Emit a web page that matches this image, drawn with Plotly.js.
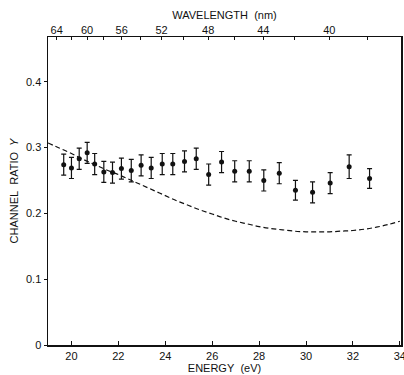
<!DOCTYPE html>
<html>
<head>
<meta charset="utf-8">
<script src="https://cdn.plot.ly/plotly-3.0.1.min.js"></script>
<style>html,body{margin:0;padding:0;background:#fff;}#chart{width:404px;height:375px;}</style>
</head>
<body>
<div id="chart"></div>
<script>
// Measured data points (energy in eV, channel ratio)
const energy = [19.67, 20.0, 20.33, 20.67, 20.99, 21.38, 21.75, 22.13, 22.55, 22.97, 23.40, 23.87, 24.32, 24.82, 25.32, 25.85, 26.40, 26.96, 27.58, 28.20, 28.86, 29.55, 30.28, 31.03, 31.84, 32.71];
const ratio = [0.274, 0.269, 0.283, 0.292, 0.275, 0.263, 0.262, 0.268, 0.265, 0.273, 0.269, 0.275, 0.275, 0.279, 0.283, 0.259, 0.278, 0.264, 0.264, 0.250, 0.261, 0.235, 0.232, 0.246, 0.271, 0.253];
const ratioErr = [0.016, 0.016, 0.016, 0.016, 0.016, 0.016, 0.016, 0.016, 0.017, 0.016, 0.016, 0.016, 0.016, 0.016, 0.016, 0.016, 0.016, 0.016, 0.016, 0.016, 0.016, 0.015, 0.016, 0.016, 0.018, 0.015];

// Dashed theoretical curve
const curveEnergy = [19.0, 19.5, 20.0, 20.5, 21.0, 21.5, 22.0, 22.5, 23.0, 23.5, 24.0, 24.5, 25.0, 25.5, 26.0, 26.5, 27.0, 27.5, 28.0, 28.5, 29.0, 29.5, 30.0, 30.5, 31.0, 31.5, 32.0, 32.5, 33.0, 33.5, 34.0];
const curveRatio = [0.307, 0.299, 0.291, 0.282, 0.274, 0.266, 0.259, 0.251, 0.243, 0.235, 0.227, 0.219, 0.212, 0.205, 0.199, 0.193, 0.188, 0.184, 0.180, 0.177, 0.175, 0.173, 0.172, 0.172, 0.172, 0.173, 0.174, 0.176, 0.179, 0.183, 0.188];

// Axis ticks
const energyTicks = [20, 22, 24, 26, 28, 30, 32, 34];
const energyLabels = ["20", "22", "24", "26", "28", "30", "32", "34"];
const ratioTicks = [0, 0.1, 0.2, 0.3, 0.4];
const ratioLabels = ["0", "0.1", "0.2", "0.3", "0.4"];
const wavelengthTicks = [64, 62, 60, 58, 56, 54, 52, 50, 48, 46, 44, 42, 40, 38];
const wavelengthLabels = ["64", "", "60", "", "56", "", "52", "", "48", "", "44", "", "40", ""];

const HC = 1239.84; // eV*nm
const wavelengthTickPos = wavelengthTicks.map(w => HC / w);

const xRange = [19.0, 34.05];
const yRange = [0, 0.468];
const font = {family: "Liberation Sans, Arial, sans-serif", size: 11, color: "#111"};

const traces = [
  {
    x: curveEnergy, y: curveRatio, type: "scatter", mode: "lines",
    line: {color: "#111", width: 1.2, dash: "5px,3px", shape: "spline"},
    hoverinfo: "skip", showlegend: false
  },
  {
    x: energy, y: ratio, type: "scatter", mode: "markers",
    marker: {color: "#111", size: 5},
    error_y: {type: "data", array: ratioErr, visible: true, color: "#111", thickness: 1.2, width: 2.5},
    showlegend: false
  },
  {
    x: curveEnergy, y: curveRatio, xaxis: "x2", type: "scatter", mode: "lines",
    line: {width: 0}, opacity: 0, hoverinfo: "skip", showlegend: false
  }
];

const layout = {
  width: 404, height: 375,
  margin: {l: 48, r: 3, t: 37, b: 30, pad: 0},
  paper_bgcolor: "#fff", plot_bgcolor: "#fff",
  font: font,
  showlegend: false,
  xaxis: {
    range: xRange, tickmode: "array", tickvals: energyTicks, ticktext: energyLabels,
    ticks: "inside", ticklen: 4, tickwidth: 1, tickcolor: "#111",
    showline: true, linecolor: "#111", linewidth: 1.5, mirror: false,
    showgrid: false, zeroline: false, tickfont: font,
    ticklabeloverflow: "allow", ticklabelstandoff: 0,
    title: {text: "ENERGY\u00a0\u00a0(eV)", font: font, standoff: 0}
  },
  xaxis2: {
    overlaying: "x", side: "top", anchor: "y",
    range: xRange, tickmode: "array", tickvals: wavelengthTickPos, ticktext: wavelengthLabels,
    ticks: "inside", ticklen: 3, tickwidth: 1, tickcolor: "#111",
    showline: true, linecolor: "#111", linewidth: 1.5,
    showgrid: false, zeroline: false, tickfont: font,
    ticklabelstandoff: -3,
    title: {text: "WAVELENGTH\u00a0\u00a0(nm)", font: font, standoff: 2}
  },
  yaxis: {
    range: yRange, tickmode: "array", tickvals: ratioTicks, ticktext: ratioLabels,
    ticks: "outside", ticklen: 3, tickwidth: 1, tickcolor: "#111",
    showline: true, linecolor: "#111", linewidth: 1.5, mirror: true,
    showgrid: false, zeroline: false, tickfont: font,
    title: {text: "CHANNEL\u00a0\u00a0RATIO\u00a0\u00a0<i>Y</i>", font: font, standoff: 5}
  }
};

Plotly.newPlot("chart", traces, layout, {displayModeBar: false, staticPlot: true});
</script>
</body>
</html>
